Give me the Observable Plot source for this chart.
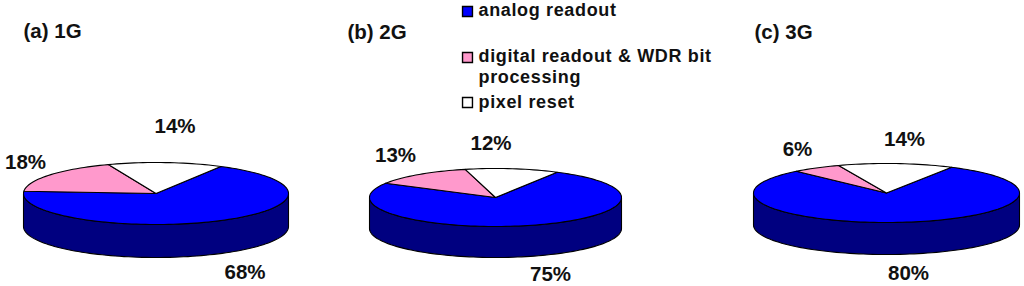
<!DOCTYPE html>
<html>
<head>
<meta charset="utf-8">
<script src="https://cdn.jsdelivr.net/npm/d3@7"></script>
<script src="https://cdn.jsdelivr.net/npm/@observablehq/plot@0.6"></script>
<style>
html,body{margin:0;padding:0;background:#fff}
text{font-family:"Liberation Sans",Arial,sans-serif;font-weight:bold;fill:#111}
.legend-text text{letter-spacing:0.65px}
</style>
</head>
<body>
<div id="chart"></div>
<script>
// Data
const generations = ["(a) 1G", "(b) 2G", "(c) 3G"];
const categories = ["analog readout", "digital readout & WDR bit processing", "pixel reset"];
const analog = [68, 75, 80];
const digital = [18, 13, 6];
const reset = [14, 12, 14];

// Styles and layout
const colors = ["#0000FF", "#FF99CC", "#FFFFFF"];
const sideColor = "#000080";
const pies = [
  {cx: 155.5, cy: 193, rx: 132.5, ry: 31, depth: 33},
  {cx: 495, cy: 197, rx: 126, ry: 29, depth: 31},
  {cx: 886, cy: 192.5, rx: 133, ry: 29.5, depth: 32}
];
const startAngle = 29.3;
const titlePos = [[23, 31], [347, 32], [754, 32]];
const labelPos = [
  [[244.5, 272], [25, 162], [174.5, 126]],
  [[550, 274], [395, 155], [490.5, 143]],
  [[908, 273], [797, 149], [904, 139]]
];
const legendRows = [
  {swatch: 0, y: 11, lines: [[categories[0], 10]]},
  {swatch: 1, y: 57, lines: [["digital readout & WDR bit", 56], ["processing", 77]]},
  {swatch: 2, y: 102, lines: [[categories[2], 102]]}
];

const rad = Math.PI / 180;
const pt = (p, deg, dy = 0) => ({x: p.cx + p.rx * Math.sin(deg * rad), y: p.cy - p.ry * Math.cos(deg * rad) + dy});
const arc = (p, a, b, dy = 0) => {
  const n = Math.max(2, Math.ceil(Math.abs(b - a) / 2));
  return d3.range(n + 1).map(i => pt(p, a + (b - a) * i / n, dy));
};

const marks = [];
const stroke = {stroke: "#000", strokeWidth: 1.1, strokeLinejoin: "round", curve: "linear-closed"};
pies.forEach((p, i) => {
  // side wall: front half of the rim, extruded downward
  const side = [...arc(p, 90, 270), ...arc(p, 270, 90, p.depth)];
  marks.push(Plot.line(side, {x: "x", y: "y", fill: sideColor, ...stroke}));
  // top face slices
  const shares = [analog[i], digital[i], reset[i]];
  let a = startAngle;
  shares.forEach((v, k) => {
    const b = a + v * 3.6;
    const poly = [{x: p.cx, y: p.cy}, ...arc(p, a, b)];
    marks.push(Plot.line(poly, {x: "x", y: "y", fill: colors[k], ...stroke}));
    a = b;
  });
  // percentage labels
  const labels = shares.map((v, k) => ({t: v + "%", x: labelPos[i][k][0], y: labelPos[i][k][1]}));
  marks.push(Plot.text(labels, {x: "x", y: "y", text: "t", fontSize: 20.5, fontWeight: "bold", fill: "#111"}));
});
// panel titles
marks.push(Plot.text(generations.map((t, i) => ({t, x: titlePos[i][0], y: titlePos[i][1]})),
  {x: "x", y: "y", text: "t", textAnchor: "start", fontSize: 20.5, fontWeight: "bold", fill: "#111"}));
// legend
const swatches = legendRows.map(r => ({y: r.y, c: colors[r.swatch]}));
marks.push(Plot.dot(swatches, {x: () => 467, y: "y", symbol: "square", r: 5.6, fill: d => d.c, stroke: "#000", strokeWidth: 1.4}));
const legendLines = legendRows.flatMap(r => r.lines.map(([t, y]) => ({t, y})));
marks.push(Plot.text(legendLines, {x: () => 478, y: "y", text: "t", textAnchor: "start", fontSize: 18, fontWeight: "bold", fill: "#111", className: "legend-text"}));

const chart = Plot.plot({
  width: 1024, height: 286,
  margin: 0,
  x: {domain: [0, 1024], range: [0, 1024], axis: null},
  y: {domain: [0, 286], range: [0, 286], axis: null},
  color: {type: "identity"},
  marks
});
document.getElementById("chart").appendChild(chart);
</script>
</body>
</html>
